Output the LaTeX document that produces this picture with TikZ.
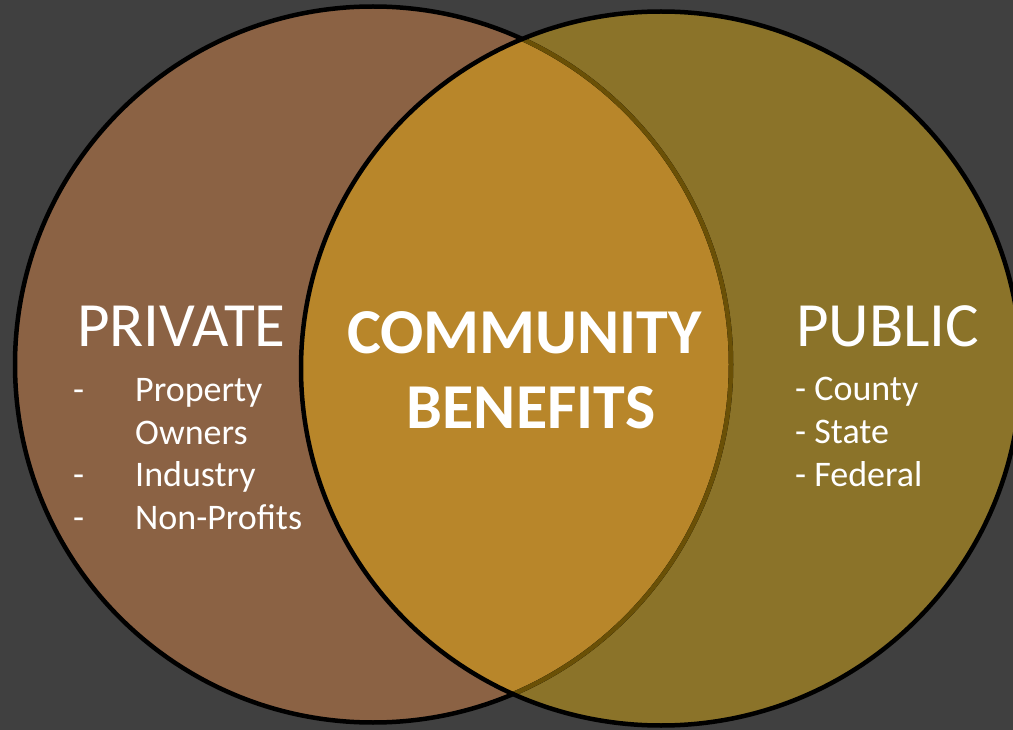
\documentclass[tikz,border=0pt]{standalone}
\usepackage{fontspec}
\setmainfont{Carlito}
\definecolor{bgc}{HTML}{404040}
\definecolor{brownc}{HTML}{8B6244}
\definecolor{olivec}{HTML}{8B7329}
\definecolor{goldc}{HTML}{B8862A}
\definecolor{innerc}{HTML}{6A5006}
\begin{document}
\begin{tikzpicture}[x=1pt,y=1pt,
  txt/.style={text=white, inner sep=0pt, anchor=base west},
  big/.style={font=\fontsize{63}{63}\selectfont},
  center/.style={text=white, inner sep=0pt, anchor=base, font=\fontsize{64}{64}\selectfont\bfseries},
  item/.style={txt, font=\fontsize{36}{36}\selectfont},
  rim/.style={line width=4.5pt}]
\useasboundingbox (0,0) rectangle (1013,-730);
\fill[bgc] (0,0) rectangle (1013,-730);
% circles
\fill[brownc] (373,-364.5) circle (358);
\fill[olivec] (661,-368.5) ellipse (360 and 357);
\begin{scope}
  \clip (373,-364.5) circle (358);
  \fill[goldc] (661,-368.5) ellipse (360 and 357);
\end{scope}
\draw[rim, black] (373,-364.5) circle (358);
\begin{scope}
  \clip (661,-368.5) ellipse (358 and 355);
  \draw[rim, innerc] (373,-364.5) circle (358);
\end{scope}
\draw[rim, black] (661,-368.5) ellipse (360 and 357);
% texts
\node[txt, big] (private) at (77,-347) {PRIVATE};
\node[txt, big] (public) at (796,-347) {PUBLIC};
\node[center] (community) at (524.5,-353) {COMMUNITY};
\node[center] (benefits) at (531,-428) {BENEFITS};
\node[item] (d1) at (73,-401) {-};
\node[item] (i1) at (135,-401) {Property};
\node[item] (i1b) at (135,-444) {Owners};
\node[item] (d2) at (73,-486) {-};
\node[item] (i2) at (135,-486) {Industry};
\node[item] (d3) at (73,-529) {-};
\node[item] (i3) at (135,-529) {Non-Profits};
\node[item] (p1) at (795,-400) {- County};
\node[item] (p2) at (795,-443) {- State};
\node[item] (p3) at (795,-486) {- Federal};
\end{tikzpicture}
\end{document}
